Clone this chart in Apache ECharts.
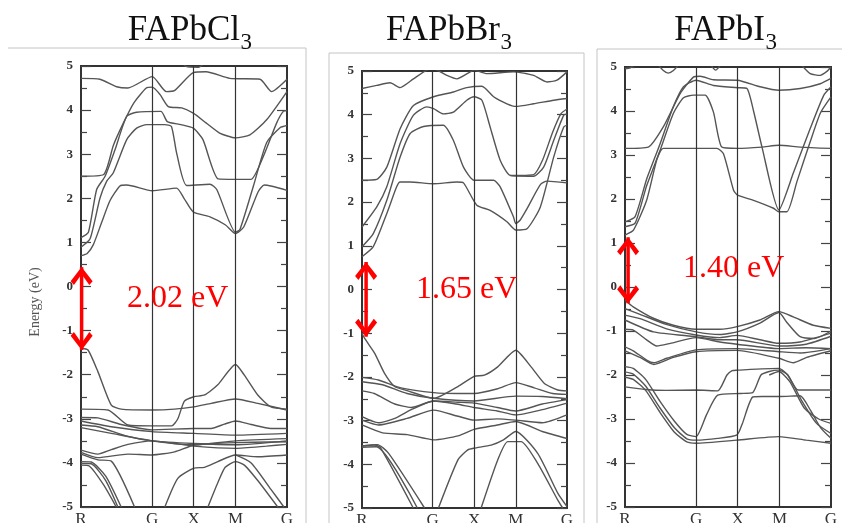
<!DOCTYPE html>
<html>
<head>
<meta charset="utf-8">
<script src="https://cdn.jsdelivr.net/npm/echarts@6/dist/echarts.min.js"></script>
<style>
html,body{margin:0;padding:0;background:#fff;}
#chart{width:842px;height:523px;}
</style>
</head>
<body>
<div id="chart"></div>
<script>
// ---- k-path ----
const kPos = [0, 34.5, 54.7, 75, 100];
const kLabels = ['R', 'G', 'X', 'M', 'G'];
const yMin = -5, yMax = 5, yStep = 1;

// ---- titles & gaps ----
const titleMain = ['FAPbCl', 'FAPbBr', 'FAPbI'];
const titleSub = ['3', '3', '3'];
const gapText = ['2.02 eV', '1.65 eV', '1.40 eV'];
const arrowK = [0.3, 2, 1.5];
const arrowTop = [0.44, 0.63, 1.13];
const arrowBottom = [-1.44, -1.08, -0.37];

// ---- FAPbCl3 bands [k, E] ----
const clBands = [
  [[0,0.70],[3,0.75],[6,0.95],[10,1.45],[14.1,1.95],[18.9,2.28],[22.2,2.30],[34.6,2.17],[46.4,2.23],[50,2.0],[54.5,1.69],[62.6,1.58],[70,1.40],[75,1.20],[79,1.35],[86,2.15],[89,2.30],[100,2.18]],
  [[0,0.89],[4.4,1.08],[9.2,2.0],[12.5,2.39],[15.7,2.58],[22.2,3.33],[27,3.59],[32,3.67],[40.6,3.67],[43.9,3.63],[46.4,3.03],[51.3,2.29],[62.6,2.32],[65.9,2.20],[75,1.23],[77.2,1.30],[83.7,2.28],[90.1,3.26],[96.6,3.60],[100,3.65]],
  [[0,1.11],[3.6,1.23],[7.6,2.20],[11.7,2.50],[16.5,3.1],[22.2,3.86],[27,3.95],[38.8,3.97],[41.9,3.74],[48.5,3.67],[54.5,3.59],[59.2,3.33],[66.6,2.44],[75,2.43],[82.5,2.43],[88.5,2.95],[95,3.71],[98.2,3.97],[100,3.99]],
  [[0,2.50],[11,2.54],[15.7,3.2],[20.6,3.71],[25.6,4.16],[31.7,4.50],[34.6,4.52],[38.4,4.35],[42.4,4.08],[48.9,4.05],[54.5,3.93],[60.7,3.71],[67.3,3.48],[75,3.37],[82,3.44],[90.1,3.78],[100,4.42]],
  [[0,4.72],[9.2,4.70],[17.3,4.53],[22.7,4.50],[34.6,4.76],[41.4,4.42],[45.3,4.44],[54.5,4.85],[60.7,4.87],[72.2,4.72],[86.9,4.70],[92.5,4.42],[100,4.70]],
  [[48,5.12],[51,4.99],[57,4.97],[61,5.12]],
  [[0,-1.40],[3.4,-1.44],[8.2,-1.93],[14.7,-2.69],[19.5,-2.78],[34.4,-2.80],[45.4,-2.78],[54.8,-2.73],[63.2,-2.65],[75,-2.55],[85.8,-2.65],[100,-2.80]],
  [[0,-2.78],[13.1,-2.80],[22.8,-3.14],[34.4,-3.16],[44,-3.16],[47,-3.0],[50.2,-2.6],[54.8,-2.50],[60,-2.46],[66.4,-2.23],[75,-1.77],[79.3,-2.01],[85.8,-2.46],[92.2,-2.73],[100,-2.78]],
  [[0,-2.97],[8.2,-2.98],[19.5,-3.13],[34.4,-3.25],[54.8,-3.22],[63.2,-3.22],[69.6,-3.12],[75,-3.05],[82.6,-3.13],[92.2,-3.22],[100,-3.22]],
  [[0,-3.05],[14.7,-3.18],[34.4,-3.29],[54.8,-3.33],[75,-3.37],[100,-3.33]],
  [[0,-3.14],[8.2,-3.18],[22.8,-3.40],[34.4,-3.50],[54.8,-3.56],[75,-3.59],[100,-3.50]],
  [[0,-3.20],[14.7,-3.33],[34.4,-3.50],[54.8,-3.59],[75,-3.50],[100,-3.45]],
  [[0,-3.71],[8.2,-3.80],[14.7,-3.70],[22.8,-3.58],[34.4,-3.50],[44,-3.55],[54.8,-3.62],[75,-3.67],[90,-3.62],[100,-3.58]],
  [[0,-3.76],[8.2,-3.88],[22.8,-3.80],[34.4,-3.82],[45.4,-3.75],[54.8,-3.60],[75,-3.54],[100,-3.52]],
  [[40.7,-5.0],[47,-4.35],[54.8,-4.12],[59.9,-4.10],[66.4,-3.97],[75,-3.82],[85.8,-3.86],[100,-3.82]],
  [[61.6,-5.0],[66.4,-4.45],[70,-4.1],[75,-3.97],[79.3,-4.05],[85.8,-4.4],[95.5,-5.0]],
  [[75,-3.82],[82.6,-4.0],[92.2,-4.6],[98.5,-5.0]],
  [[0,-3.97],[5,-3.98],[12,-4.3],[19.5,-5.0]],
  [[0,-4.01],[5,-4.02],[12,-4.4],[17.9,-5.0]],
  [[0,-4.05],[4,-4.07],[11,-4.5],[17.1,-5.0]],
  [[0,-3.80],[8.2,-3.93],[14.7,-3.96],[26,-5.0]]
];

// ---- FAPbBr3 bands [k, E] ----
const brBands = [
  [[0,0.75],[5.5,0.98],[12.1,1.74],[16.9,2.35],[18.6,2.46],[23.5,2.46],[34.9,2.42],[46.3,2.46],[49.5,2.44],[56,1.93],[62.5,1.81],[70.7,1.55],[75,1.36],[80.5,1.39],[87,1.89],[93.5,3.03],[98.4,3.72],[100,3.76]],
  [[0,0.98],[5.5,1.28],[12.1,2.04],[18.6,3.03],[23.5,3.57],[30,3.73],[39.7,3.76],[44.6,3.41],[49.5,2.80],[54.7,2.50],[64.2,2.50],[67.4,2.35],[73.9,1.66],[75,1.51],[77.2,1.59],[80.5,1.85],[87,2.40],[90.2,2.48],[100,2.44]],
  [[0,1.43],[7.2,1.89],[12.1,2.35],[18.6,3.34],[25.1,3.99],[31.6,4.18],[34.9,4.14],[39.7,4.02],[44.6,4.06],[51.1,4.33],[54.7,4.41],[58.5,4.33],[62.5,3.72],[67.4,2.96],[72.3,2.61],[83.7,2.59],[88.6,2.8],[93.5,3.41],[98.4,3.99],[100,4.02]],
  [[72.3,2.61],[83.7,2.63],[88,2.95],[93,3.6],[97,4.02],[100,4.13]],
  [[0,2.50],[7.2,2.52],[12.1,2.8],[18.6,3.68],[25.1,4.21],[34.9,4.41],[44.6,4.52],[51.1,4.62],[58.5,4.65],[64.2,4.41],[70.7,4.25],[75,4.19],[83.7,4.25],[93.5,4.33],[100,4.37]],
  [[0,4.60],[7.2,4.67],[13.7,4.73],[18.6,4.62],[25.1,4.82],[31.6,5.02],[34.9,5.05],[41.4,4.90],[46.3,4.82],[52.8,4.98],[54.7,5.02],[60.9,4.94],[73.9,4.98],[83.7,4.90],[90.2,4.75],[95.1,4.79],[100,4.98]],
  [[0,-1.0],[1.3,-1.12],[6.2,-1.46],[11,-1.92],[15.9,-2.22],[22.4,-2.32],[35,-2.49],[46.8,-2.22],[54.7,-1.99],[59.7,-1.96],[66.2,-1.77],[75,-1.39],[82.5,-1.77],[89,-2.15],[95.5,-2.30],[100,-2.32]],
  [[0,-2.01],[8,-2.07],[19,-2.25],[35,-2.36],[46.8,-2.38],[54.7,-2.38],[66.2,-2.27],[75,-2.13],[84,-2.25],[93,-2.38],[100,-2.40]],
  [[0,-2.11],[10,-2.18],[22,-2.38],[35,-2.49],[54.7,-2.55],[75,-2.44],[88,-2.45],[100,-2.50]],
  [[0,-2.32],[6,-2.38],[16,-2.62],[24,-2.70],[35,-2.55],[46.8,-2.58],[54.7,-2.60],[66,-2.70],[75,-2.78],[88,-2.62],[100,-2.52]],
  [[0,-2.91],[8,-3.05],[16,-2.95],[24,-2.75],[35,-2.55],[46,-2.62],[54.7,-2.70],[66,-2.78],[75,-2.87],[88,-2.75],[100,-2.60]],
  [[0,-2.99],[8,-3.10],[22,-2.95],[35,-2.76],[46.8,-2.90],[54.7,-2.99],[66,-2.96],[75,-2.99],[88,-3.05],[100,-2.87]],
  [[0,-3.10],[10,-3.28],[22,-3.32],[35,-3.44],[46.8,-3.35],[54.7,-3.20],[66,-3.10],[75,-3.02],[88,-3.25],[100,-3.41]],
  [[37.3,-5.0],[46.8,-3.90],[51.6,-3.67],[54.7,-3.63],[63,-3.56],[69,-3.44],[75,-3.25],[85.7,-3.75],[95.5,-4.66],[100,-4.97]],
  [[58.1,-5.0],[66.2,-3.90],[71.1,-3.48],[77.6,-3.48],[85.7,-3.98],[95.5,-4.82],[97.9,-5.0]],
  [[0,-3.58],[6.2,-3.56],[9,-3.62],[25,-5.0]],
  [[0,-3.61],[7,-3.60],[27,-5.0]],
  [[0,-3.58],[7.5,-3.55],[13,-3.75],[30.5,-5.0]]
];

// ---- FAPbI3 bands [k, E] ----
const iBands = [
  [[0,3.15],[11.3,3.18],[18.6,3.64],[26.7,4.39],[33.2,4.77],[36.5,4.79],[42.9,4.71],[54.6,4.70],[65.6,4.55],[74.7,4.47],[85.1,4.51],[94.8,4.62],[100,4.74]],
  [[0,1.48],[4.9,1.6],[10.5,2.45],[17,3.25],[23.5,4.1],[28.4,4.55],[34.5,4.70],[42.9,4.58],[54.6,4.53],[59.2,4.51],[62.4,4.0],[66.5,3.18],[74.7,1.75],[81.8,2.6],[89.9,3.6],[96.4,4.35],[100,4.55]],
  [[0,1.37],[4.9,1.45],[10.5,2.3],[17,3.1],[23.5,3.95],[28.4,4.30],[33.2,4.36],[38.9,4.36],[42.9,3.98],[47,3.18],[54.6,3.15],[66.5,3.18],[74.7,3.22],[85.1,3.18],[100,3.15]],
  [[0,1.18],[4.1,1.29],[10.5,1.97],[15.5,2.9],[18.6,3.15],[44.6,3.15],[47.8,3.03],[52.7,2.2],[54.6,2.09],[62.4,1.97],[72.1,1.79],[74.7,1.71],[78.6,1.71],[83.5,2.4],[89.9,3.3],[94.8,3.95],[100,4.32]],
  [[0,4.96],[2.5,4.98],[5,5.08]],
  [[15.5,5.08],[18.6,4.92],[21,4.86],[23.5,4.92],[26.7,5.08]],
  [[41,5.08],[44,4.93],[47,5.08]],
  [[85,5.08],[89.9,4.85],[94.8,4.81],[98,4.9],[100,5.0]],
  [[0,-0.30],[4,-0.45],[13.8,-0.71],[23.5,-0.87],[34.5,-0.96],[46.1,-0.96],[54.4,-0.90],[65.5,-0.75],[74.7,-0.56],[81.7,-0.68],[91.4,-0.87],[100,-0.94]],
  [[0,-0.49],[7.3,-0.62],[20,-0.85],[34.5,-1.02],[46.1,-1.08],[54.4,-1.02],[65.5,-0.82],[74.7,-0.58],[78.5,-0.80],[85,-1.13],[92,-1.17],[100,-1.0]],
  [[0,-0.64],[7.3,-0.72],[20.2,-0.95],[34.5,-1.09],[46.1,-1.15],[54.4,-1.1],[65.5,-1.2],[74.7,-1.28],[85,-1.25],[100,-1.05]],
  [[0,-0.75],[13.8,-1.02],[34.5,-1.13],[46,-1.2],[54.4,-1.2],[74.7,-1.34],[88,-1.3],[100,-1.12]],
  [[0,-0.96],[4,-0.98],[10.5,-1.2],[15.4,-1.34],[22,-1.28],[34.5,-1.15],[46,-1.25],[54.4,-1.30],[74.7,-1.40],[88,-1.38],[100,-1.40]],
  [[0,-1.36],[4,-1.45],[10.5,-1.66],[14,-1.72],[20.2,-1.62],[34.5,-1.43],[54.4,-1.40],[74.7,-1.47],[85,-1.50],[100,-1.40]],
  [[0,-1.45],[7.3,-1.6],[14,-1.76],[23.5,-1.6],[34.5,-1.47],[54.4,-1.44],[74.7,-1.62],[81.7,-1.72],[88.2,-1.60],[100,-1.45]],
  [[0,-2.27],[10,-2.33],[20,-2.35],[34.5,-2.34],[45,-2.36],[49.5,-2.0],[52,-1.9],[54.4,-1.89],[74.7,-1.85],[79,-2.0],[84,-2.34],[100,-2.34]],
  [[0,-1.81],[4,-1.85],[10,-2.1],[17,-2.6],[24,-3.05],[30,-3.35],[34.5,-3.40],[39.6,-2.9],[45,-2.46],[56,-2.42],[62,-2.40],[66,-2.0],[70,-1.92],[74.7,-1.89],[79,-2.0],[86,-2.6],[93,-3.1],[100,-3.33]],
  [[0,-1.93],[4,-1.98],[10,-2.25],[17,-2.75],[24,-3.2],[30,-3.45],[34.5,-3.48],[45,-3.44],[54.4,-3.36],[57,-3.1],[62,-2.5],[66.5,-2.49],[74.7,-2.49],[85,-2.47],[90,-2.8],[95,-3.2],[100,-3.44]],
  [[0,-2.05],[4,-2.1],[10,-2.35],[17,-2.85],[24,-3.3],[30,-3.52],[34.5,-3.55],[54.4,-3.48],[74.7,-3.40],[88,-3.48],[100,-3.55]],
  [[70,-2.0],[74.7,-1.92],[80,-2.15],[87,-2.75],[94,-3.0],[100,-3.10]]
];

const allBands = [clBands, brBands, iBands];

// ---- layout ----
const grids = [
  {left: 81, top: 66, width: 206, height: 441},
  {left: 362, top: 71, width: 205, height: 437},
  {left: 625, top: 67, width: 206, height: 440}
];
const serif = "'Liberation Serif', 'Times New Roman', serif";
const chevron = 'path://M10,0 L20,11 L17,14 L10,5.5 L3,14 L0,11 Z';

const xAxes = [], yAxes = [], series = [];
grids.forEach((g, i) => {
  xAxes.push({
    gridIndex: i, type: 'value', min: 0, max: 100,
    axisLine: {show: true, onZero: false, lineStyle: {color: '#333', width: 2}},
    axisTick: {show: false},
    splitLine: {show: false},
    axisLabel: {
      customValues: kPos,
      formatter: v => {
        let best = 0;
        kPos.forEach((p, j) => { if (Math.abs(p - v) < Math.abs(kPos[best] - v)) best = j; });
        return kLabels[best];
      },
      margin: 4, fontFamily: serif, fontSize: 17, color: '#333',
      showMinLabel: true, showMaxLabel: true, hideOverlap: false
    }
  });
  const yBase = {
    gridIndex: i, type: 'value', min: yMin, max: yMax, interval: yStep,
    axisLine: {show: true, onZero: false, lineStyle: {color: '#333', width: 2}},
    axisTick: {show: true, inside: true, length: 10, lineStyle: {color: '#444', width: 1.2}},
    minorTick: {show: true, splitNumber: 2, length: 6, lineStyle: {color: '#444', width: 1.2}},
    splitLine: {show: false}, minorSplitLine: {show: false}
  };
  yAxes.push(Object.assign({}, yBase, {
    position: 'left',
    axisLabel: {margin: 8, fontFamily: serif, fontWeight: 'bold', fontSize: 13, color: '#333'}
  }));
  yAxes.push(Object.assign({}, yBase, {position: 'right', axisLabel: {show: false}}));

  allBands[i].forEach(b => {
    series.push({
      type: 'line', xAxisIndex: i, yAxisIndex: 2 * i, data: b,
      symbol: 'none', showSymbol: false, smooth: 0.2, silent: true, clip: true,
      lineStyle: {color: '#555', width: 1.4}, z: 3
    });
  });
  // high-symmetry vertical lines
  series.push({
    type: 'line', xAxisIndex: i, yAxisIndex: 2 * i, data: [[0, -6]],
    symbol: 'none', lineStyle: {opacity: 0}, silent: true,
    markLine: {
      symbol: ['none', 'none'], silent: true, animation: false,
      label: {show: false},
      lineStyle: {color: '#333', width: 1.2, type: 'solid'},
      data: kPos.slice(1, 4).map(v => ({xAxis: v}))
    }
  });
  // red gap arrow
  series.push({
    type: 'line', xAxisIndex: i, yAxisIndex: 2 * i, clip: false, silent: true, z: 10,
    symbol: chevron, symbolSize: [22, 18], showSymbol: true, showAllSymbol: true,
    lineStyle: {color: '#ff0000', width: 3.5},
    itemStyle: {color: '#ff0000'},
    data: [
      {value: [arrowK[i], arrowTop[i]], symbolOffset: [0, 9]},
      {value: [arrowK[i], arrowBottom[i]], symbolRotate: 180, symbolOffset: [0, -9]}
    ]
  });
});

// ---- annotations ----
const titleRight = [240, 500, 765];
const gapLeft = [127, 416, 683];
const gapMid = [299, 290, 269];
const graphics = [
  {type: 'polyline', shape: {points: [[8, 48], [306, 48], [306, 530]]}, style: {stroke: '#c4c4c4', lineWidth: 1, fill: null}, silent: true},
  {type: 'rect', shape: {x: 329, y: 53, width: 255, height: 480}, style: {stroke: '#c4c4c4', lineWidth: 1, fill: null}, silent: true},
  {type: 'polyline', shape: {points: [[597, 530], [597, 49], [845, 49]]}, style: {stroke: '#c4c4c4', lineWidth: 1, fill: null}, silent: true},
  {type: 'text', x: 35, y: 302, rotation: Math.PI / 2, silent: true,
   style: {text: 'Energy (eV)', font: "14px 'Liberation Serif'", fill: '#555', textAlign: 'center', textVerticalAlign: 'middle'}}
];
titleMain.forEach((t, i) => {
  graphics.push({type: 'text', x: titleRight[i], y: 31, silent: true,
    style: {text: t, font: "35px 'Liberation Serif'", fill: '#111', textAlign: 'right', textVerticalAlign: 'middle'}});
  graphics.push({type: 'text', x: titleRight[i] + 0.5, y: 43, silent: true,
    style: {text: titleSub[i], font: "23px 'Liberation Serif'", fill: '#111', textAlign: 'left', textVerticalAlign: 'middle'}});
  graphics.push({type: 'text', x: gapLeft[i], y: gapMid[i], silent: true, z: 20,
    style: {text: gapText[i], font: "32px 'Liberation Serif'", fill: '#ff0000', textAlign: 'left', textVerticalAlign: 'middle'}});
});

const chart = echarts.init(document.getElementById('chart'), null, {renderer: 'canvas'});
chart.setOption({
  animation: false,
  backgroundColor: '#fff',
  grid: grids.map(g => Object.assign({show: true, borderColor: '#333', borderWidth: 2, backgroundColor: 'transparent', containLabel: false, outerBoundsMode: 'none'}, g)),
  xAxis: xAxes,
  yAxis: yAxes,
  series: series,
  graphic: graphics
});
</script>
</body>
</html>
